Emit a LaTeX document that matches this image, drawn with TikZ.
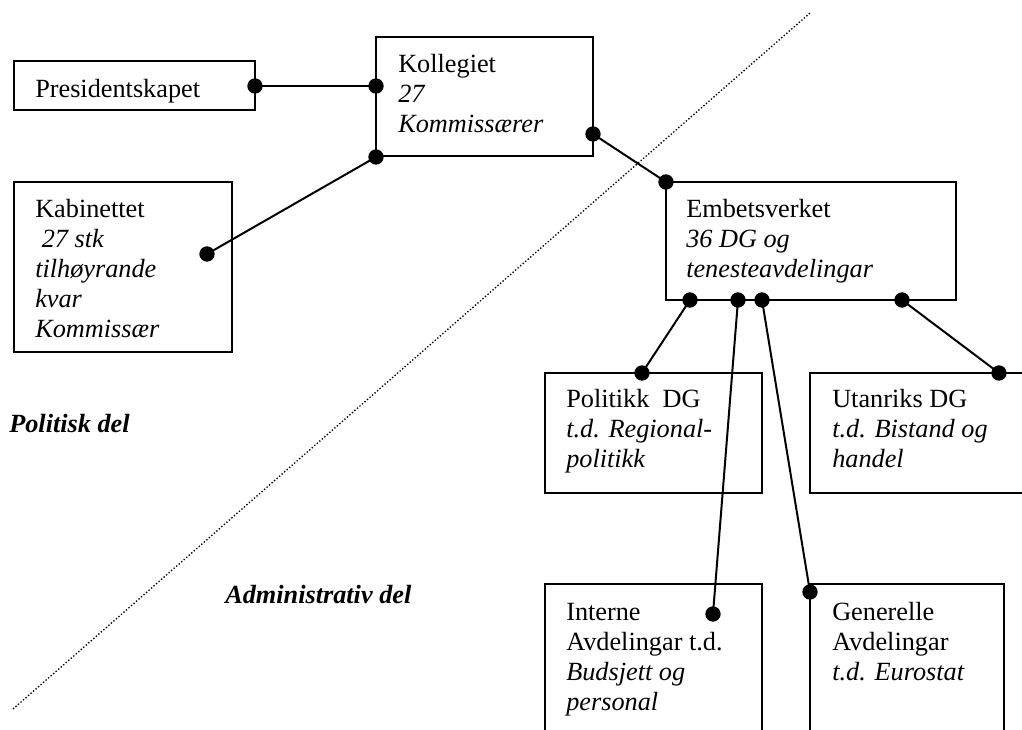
\documentclass[tikz,border=0pt]{standalone}
\usepackage{fontspec}
\setmainfont{Liberation Serif}
\usetikzlibrary{fit}
\newcommand{\boxlines}[1]{\begin{tabular}[t]{@{}l@{}}#1\end{tabular}}
\begin{document}
\begin{tikzpicture}[x=0.75pt,y=-0.75pt,
  every node/.style={font=\fontsize{19.7}{22.5}\selectfont},
  box/.style={draw,line width=1.5pt,inner sep=0pt,rectangle},
  txt/.style={anchor=base west,inner sep=0pt},
  lbl/.style={anchor=base west,inner sep=0pt,font=\fontsize{19.7}{22.5}\selectfont\bfseries\itshape},
  dot/.style={circle,fill=black,inner sep=0pt,minimum size=11.5pt},
  conn/.style={line width=1.5pt},
  divider/.style={line width=1pt,dash pattern=on 1pt off 1.5pt}]
\useasboundingbox (0,0) rectangle (1022,729);
\clip (0,0) rectangle (1022,729);

% divider line
\coordinate (dl1) at (13,709);
\coordinate (dl2) at (810,13);
\draw[divider] (dl1) -- (dl2);

% boxes
\node[box,fit={(14,61) (255,110)}] (pres) {};
\node[box,fit={(376,37) (593,156)}] (koll) {};
\node[box,fit={(14,182) (232,352)}] (kab) {};
\node[box,fit={(666,182) (956,300)}] (emb) {};
\node[box,fit={(545,373) (762,493)}] (pol) {};
\node[box,fit={(810,373) (1045,493)}] (uta) {};
\node[box,fit={(545,584) (762,760)}] (int) {};
\node[box,fit={(810,584) (1004,760)}] (gen) {};

% texts
\node[txt] (presT) at (35,97) {Presidentskapet};
\node[txt] (kollT) at (398,72) {\boxlines{Kollegiet\\ \textit{27}\\ \textit{Kommissærer}}};
\node[txt] (kabT) at (35,217) {\boxlines{Kabinettet\\ \ \textit{27 stk}\\ \textit{tilhøyrande}\\ \textit{kvar}\\ \textit{Kommissær}}};
\node[txt] (embT) at (686,217) {\boxlines{Embetsverket\\ \textit{36 DG og}\\ \textit{tenesteavdelingar}}};
\node[txt] (polT) at (566,407) {\boxlines{Politikk\ \ DG\\ \textit{t.d. Regional-}\\ \textit{politikk}}};
\node[txt] (utaT) at (832,407) {\boxlines{Utanriks DG\\ \textit{t.d. Bistand og}\\ \textit{handel}}};
\node[txt] (intT) at (566,620) {\boxlines{Interne\\ Avdelingar t.d.\\ \textit{Budsjett og}\\ \textit{personal}}};
\node[txt] (genT) at (832,620) {\boxlines{Generelle\\ Avdelingar\\ \textit{t.d. Eurostat}}};
\node[lbl] (polit) at (9,432) {Politisk del};
\node[lbl] (admin) at (225,603) {Administrativ del};

% dots
\node[dot] (pd) at (255,86) {};
\node[dot] (kd1) at (376,86) {};
\node[dot] (kd2) at (376,157) {};
\node[dot] (kabd) at (207,254) {};
\node[dot] (kd3) at (593,134) {};
\node[dot] (ed0) at (666,182) {};
\node[dot] (ed1) at (690,300) {};
\node[dot] (ed2) at (738,300) {};
\node[dot] (ed3) at (762,300) {};
\node[dot] (ed4) at (902,300) {};
\node[dot] (pold) at (642,373) {};
\node[dot] (intd) at (713,614) {};
\node[dot] (gend) at (810,592) {};
\node[dot] (utad) at (999,373) {};

% connectors
\draw[conn] (pd.center) -- (kd1.center);
\draw[conn] (kd2.center) -- (kabd.center);
\draw[conn] (kd3.center) -- (ed0.center);
\draw[conn] (ed1.center) -- (pold.center);
\draw[conn] (ed2.center) -- (intd.center);
\draw[conn] (ed3.center) -- (gend.center);
\draw[conn] (ed4.center) -- (utad.center);
\end{tikzpicture}
\end{document}
